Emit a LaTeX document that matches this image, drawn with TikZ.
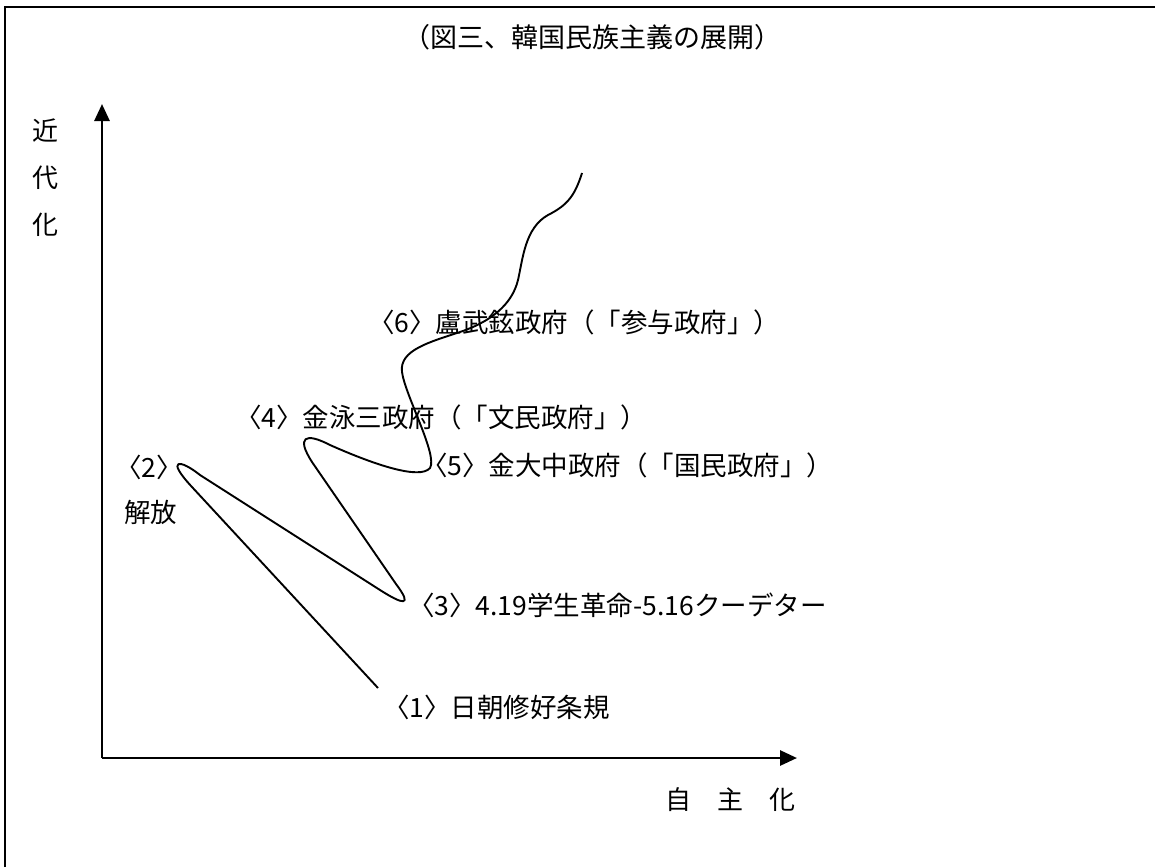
\documentclass[tikz,border=0pt]{standalone}
\usepackage{fontspec}
\newfontfamily\cjk{Noto Sans CJK JP}
\usetikzlibrary{arrows.meta}
\begin{document}
\begin{tikzpicture}[x=1pt,y=-1pt,
  lbl/.style={inner sep=0pt,anchor=west,font={\fontsize{26.5}{30}\cjk}},
  axis/.style={line width=2.8pt,-{Triangle[length=17pt,width=15pt]}},
  path/.style={line width=1.9pt,line join=round}]
\useasboundingbox (0,0) rectangle (1155,867);
% border (top and left)
\draw[line width=2.2pt] (5,867) -- (5,7) -- (1155,7);
% title
\node[inner sep=0pt,font={\fontsize{27}{30}\cjk}] (title) at (592,37) {（図三、韓国民族主義の展開）};
% axes
\coordinate (O) at (102,758);
\coordinate (ytip) at (102,104);
\coordinate (xtip) at (797,758);
\draw[axis] (O) -- (ytip);
\draw[axis] (O) -- (xtip);
\node[inner sep=0pt,align=center,font={\fontsize{26}{47}\cjk}] (ylab) at (45,178) {近\\代\\化};
\node[inner sep=0pt,font={\fontsize{26}{30}\cjk}] (xlab) at (730,800) {自　主　化};
% labels
\node[lbl] (l1) at (383,707) {〈1〉日朝修好条規};
\node[lbl] (l2) at (115,467) {〈2〉};
\node[lbl] (l2b) at (124,512) {解放};
\node[lbl] (l3) at (408,605) {〈3〉4.19学生革命-5.16クーデター};
\node[lbl] (l4) at (235,417) {〈4〉金泳三政府（「文民政府」）};
\node[lbl] (l5) at (421,465) {〈5〉金大中政府（「国民政府」）};
\node[lbl] (l6) at (368,322) {〈6〉盧武鉉政府（「参与政府」）};
% path
\coordinate (s) at (378,688);
\coordinate (e) at (582,173);
\draw[path] (s) -- (192,487)
  .. controls (165,458) and (180,459) .. (200,475)
  -- (380,590)
  .. controls (402,604) and (414,608) .. (396,584)
  -- (312,462)
  .. controls (296,437) and (305,432) .. (330,445)
  .. controls (375,465) and (420,480) .. (430,468)
  .. controls (438,455) and (405,395) .. (402,372)
  .. controls (399,350) and (430,342) .. (460,332)
  .. controls (490,322) and (512,305) .. (518,280)
  .. controls (523,258) and (525,228) .. (548,215)
  .. controls (568,205) and (575,195) .. (e);
\end{tikzpicture}
\end{document}
